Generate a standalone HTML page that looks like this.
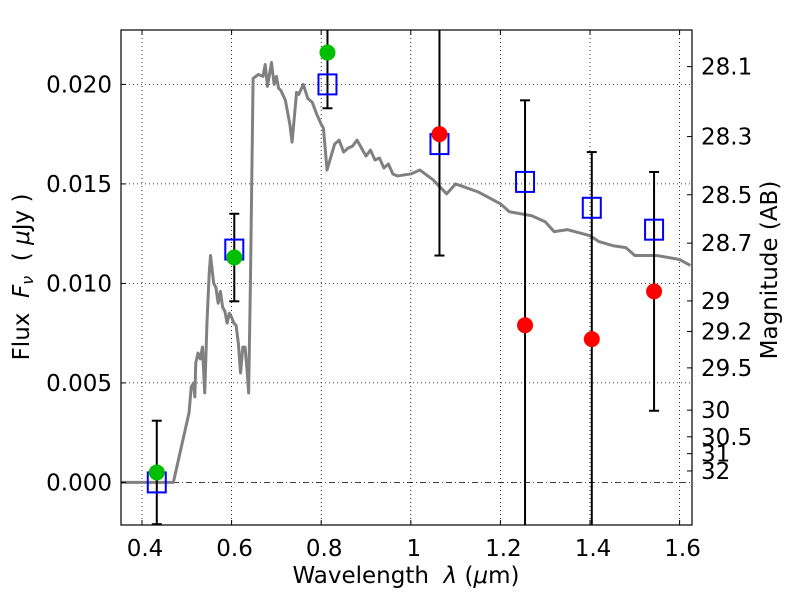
<!DOCTYPE html>
<html><head><meta charset="utf-8"><style>
html,body{margin:0;padding:0;background:#fff;overflow:hidden;width:800px;height:600px}
svg{display:block}
svg text{font-family:"DejaVu Sans","Liberation Sans",sans-serif;fill:#000;white-space:pre}
</style></head><body>
<svg id="c" width="800" height="600" xmlns="http://www.w3.org/2000/svg"></svg>
<script>
const xTicks=[0.4,0.6,0.8,1.0,1.2,1.4,1.6];
const xTickLabels=["0.4","0.6","0.8","1","1.2","1.4","1.6"];
const yTicks=[0,0.005,0.010,0.015,0.020];
const yTickLabels=["0.000","0.005","0.010","0.015","0.020"];
const magTicks=[28.1,28.3,28.5,28.7,29,29.2,29.5,30,30.5,31,32];
const magLabels=["28.1","28.3","28.5","28.7","29","29.2","29.5","30","30.5","31","32"];
const specWave=[0.35,0.47,0.475,0.48,0.49,0.50,0.505,0.51,0.515,0.518,0.52,0.525,0.53,0.535,0.54,0.545,0.55,0.553,0.56,0.565,0.57,0.575,0.58,0.585,0.59,0.595,0.60,0.605,0.61,0.615,0.62,0.625,0.63,0.635,0.638,0.642,0.648,0.66,0.67,0.675,0.68,0.689,0.695,0.70,0.705,0.71,0.72,0.73,0.735,0.745,0.75,0.76,0.77,0.78,0.79,0.80,0.805,0.813,0.83,0.84,0.85,0.86,0.87,0.88,0.89,0.90,0.91,0.92,0.93,0.94,0.95,0.96,0.97,1.0,1.02,1.05,1.08,1.1,1.15,1.2,1.22,1.27,1.3,1.32,1.35,1.4,1.42,1.45,1.48,1.5,1.55,1.6,1.624];
const specFlux=[0,0,0.0005,0.001,0.002,0.003,0.0035,0.0048,0.005,0.0043,0.006,0.0065,0.0062,0.0068,0.0045,0.008,0.0105,0.0114,0.0100,0.0098,0.009,0.0096,0.0088,0.0086,0.0080,0.0085,0.0083,0.0080,0.0079,0.0070,0.0055,0.0068,0.0068,0.0055,0.0045,0.010,0.0203,0.0205,0.0204,0.0210,0.0199,0.0211,0.0200,0.0204,0.0198,0.0197,0.0192,0.0180,0.0171,0.0196,0.0195,0.0200,0.0193,0.0191,0.0185,0.0180,0.0178,0.0157,0.0170,0.0172,0.0166,0.0168,0.0169,0.0172,0.0168,0.0164,0.0167,0.0162,0.0163,0.0158,0.0160,0.0155,0.0154,0.0155,0.0157,0.0152,0.0145,0.0150,0.0146,0.0140,0.0136,0.0134,0.0131,0.0126,0.0127,0.0124,0.0121,0.0119,0.0118,0.0114,0.0114,0.0112,0.0109];
const greenWave=[0.433,0.606,0.814];
const greenFlux=[0.0005,0.0113,0.0216];
const blueWave=[0.433,0.606,0.814,1.064,1.255,1.404,1.543];
const blueFlux=[0.0000,0.0117,0.0200,0.0170,0.0151,0.0138,0.0127];
const redWave=[1.064,1.255,1.404,1.543];
const redFlux=[0.0175,0.0079,0.0072,0.0096];
const errWave=[0.433,0.606,0.814,1.064,1.255,1.404,1.543];
const errLow=[-0.0021,0.0091,0.0188,0.0114,-0.01,-0.01,0.0036];
const errHigh=[0.0031,0.0135,0.03,0.03,0.0192,0.0166,0.0156];

const L=121,R=692,T=30,B=525;
const X=v=>142+(v-0.4)*448;
const Y=f=>482.4-f*19900;
const NS="http://www.w3.org/2000/svg";
const svg=document.getElementById('c');
function el(t,a,p){const e=document.createElementNS(NS,t);for(const k in a)e.setAttribute(k,a[k]);(p||svg).appendChild(e);return e;}
const defs=el('defs',{});const cp=el('clipPath',{id:'clip'},defs);el('rect',{x:L,y:T,width:R-L,height:B-T},cp);
const plot=el('g',{'clip-path':'url(#clip)'});


xTicks.forEach((v,i)=>{
  const g=el('line',{x1:X(v),x2:X(v),y1:T,y2:B,stroke:'#000','stroke-width':0.8,'stroke-dasharray':'1,3'},plot);
  
  
  el('line',{x1:X(v),x2:X(v),y1:B,y2:B-5,stroke:'#000'});el('line',{x1:X(v),x2:X(v),y1:T,y2:T+5,stroke:'#000'});
  const t=el('text',{x:X(v)+3,y:B+31,'font-size':23,'text-anchor':'middle'});t.textContent=xTickLabels[i];
  
  
});
yTicks.forEach((v,i)=>{
  const g=el('line',{x1:L,x2:R,y1:Y(v),y2:Y(v),stroke:'#000','stroke-width':0.8,'stroke-dasharray':v===0?'6,3,1,3':'1,3'},plot);
  
  
  el('line',{x1:L,x2:L+5,y1:Y(v),y2:Y(v),stroke:'#000'});
  const t=el('text',{x:L-9,y:Y(v)+8,'font-size':23,'text-anchor':'end'});t.textContent=yTickLabels[i];
  
  
});
magTicks.forEach((m,i)=>{
  const y=Y(Math.pow(10,(23.9-m)/2.5));
  el('line',{x1:R,x2:R-5,y1:y,y2:y,stroke:'#000'});
  const t=el('text',{x:R+9,y:y+8,'font-size':23});t.textContent=magLabels[i];
  
  
});
const sp=el('polyline',{points:specWave.map((w,i)=>X(w)+','+Y(specFlux[i])).join(' '),fill:'none',stroke:'#808080','stroke-width':3,'stroke-linejoin':'round'},plot);


errWave.forEach((w,i)=>{
  const g=el('g',{},plot);
  
  
  el('line',{x1:X(w),x2:X(w),y1:Y(errLow[i]),y2:Y(errHigh[i]),stroke:'#000','stroke-width':2},g);
  [errLow[i],errHigh[i]].forEach(v=>el('line',{x1:X(w)-5,x2:X(w)+5,y1:Y(v),y2:Y(v),stroke:'#000','stroke-width':2},g));
});
blueWave.forEach((w,i)=>{
  const r=el('rect',{x:X(w)-9,y:Y(blueFlux[i])-10,width:18,height:20,fill:'none',stroke:'#0000ff','stroke-width':2},plot);
  
  
});
greenWave.forEach((w,i)=>{
  const c=el('circle',{cx:X(w),cy:Y(greenFlux[i]),r:8,fill:'#00bf00'},plot);
  
  
});
redWave.forEach((w,i)=>{
  const c=el('circle',{cx:X(w),cy:Y(redFlux[i]),r:8,fill:'#ff0000'},plot);
  
  
});
const fr=el('rect',{x:L,y:T,width:R-L,height:B-T,fill:'none',stroke:'#000','stroke-width':1.2});


const xl=el('text',{x:406,y:583,'font-size':23,'text-anchor':'middle'});xl.innerHTML='Wavelength  <tspan font-style="italic">λ</tspan> (<tspan font-style="italic">μ</tspan>m)';


const yl=el('text',{x:0,y:0,'font-size':23,'text-anchor':'middle',transform:'translate(29,277) rotate(-90)'});yl.innerHTML='Flux  <tspan font-style="italic">F</tspan><tspan font-size="16" font-style="italic" dy="4">ν</tspan><tspan dy="-4">  ( </tspan><tspan font-style="italic">μ</tspan>Jy )';


const rl=el('text',{x:0,y:0,'font-size':23,'text-anchor':'middle',transform:'translate(777,270) rotate(-90)'});rl.textContent='Magnitude (AB)';


</script>
</body></html>
